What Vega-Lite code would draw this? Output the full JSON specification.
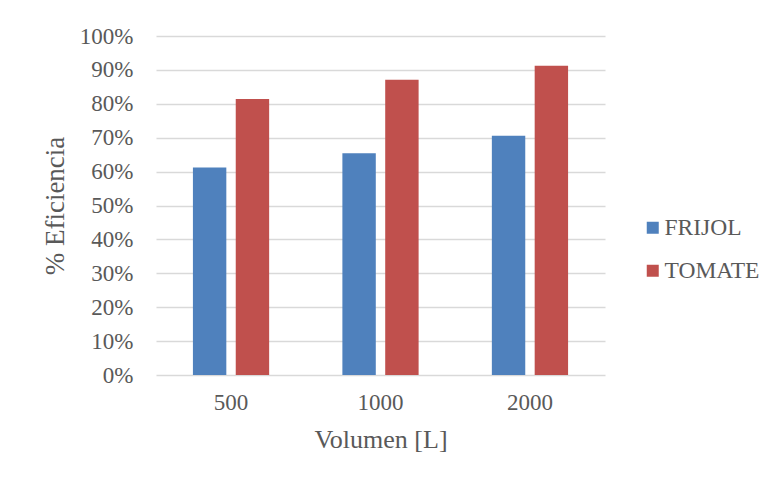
{
  "$schema": "https://vega.github.io/schema/vega-lite/v6.json",
  "width": 449,
  "height": 339,
  "autosize": {"type": "none"},
  "padding": {"left": 156, "top": 36, "right": 172, "bottom": 110},
  "background": "white",
  "data": {
    "values": [
      {"volumen": "500", "cultivo": "FRIJOL", "eficiencia": 0.612},
      {"volumen": "500", "cultivo": "TOMATE", "eficiencia": 0.814},
      {"volumen": "1000", "cultivo": "FRIJOL", "eficiencia": 0.654},
      {"volumen": "1000", "cultivo": "TOMATE", "eficiencia": 0.871},
      {"volumen": "2000", "cultivo": "FRIJOL", "eficiencia": 0.706},
      {"volumen": "2000", "cultivo": "TOMATE", "eficiencia": 0.912}
    ]
  },
  "mark": {"type": "bar"},
  "encoding": {
    "x": {
      "field": "volumen",
      "type": "ordinal",
      "sort": ["500", "1000", "2000"],
      "scale": {"paddingInner": 0.49, "paddingOuter": 0.247},
      "axis": {
        "title": "Volumen [L]",
        "titleFontSize": 26,
        "labelAngle": 0,
        "domain": false,
        "ticks": false,
        "labelPadding": 16,
        "titlePadding": 12
      }
    },
    "xOffset": {
      "field": "cultivo",
      "type": "nominal",
      "scale": {"paddingInner": 0.22, "paddingOuter": 0}
    },
    "y": {
      "field": "eficiencia",
      "type": "quantitative",
      "scale": {"domain": [0, 1]},
      "axis": {
        "title": "% Eficiencia",
        "titleFontSize": 27,
        "format": ".0%",
        "values": [0, 0.1, 0.2, 0.3, 0.4, 0.5, 0.6, 0.7, 0.8, 0.9, 1],
        "labelOverlap": false,
        "domain": false,
        "ticks": false,
        "labelPadding": 23,
        "titlePadding": 10,
        "grid": true
      }
    },
    "color": {
      "field": "cultivo",
      "type": "nominal",
      "scale": {"domain": ["FRIJOL", "TOMATE"], "range": ["#4f81bd", "#c0504d"]},
      "legend": {
        "title": null,
        "orient": "none",
        "legendX": 485,
        "legendY": 180,
        "symbolType": "square",
        "symbolSize": 144,
        "symbolStrokeWidth": 0,
        "rowPadding": 18,
        "labelOffset": 0
      }
    }
  },
  "config": {
    "font": "Liberation Serif",
    "view": {"stroke": null},
    "axis": {
      "labelFont": "Liberation Serif",
      "titleFont": "Liberation Serif",
      "labelFontSize": 23,
      "titleFontWeight": "normal",
      "labelColor": "#595959",
      "titleColor": "#595959",
      "gridColor": "#d9d9d9",
      "gridWidth": 1.5
    },
    "legend": {
      "labelFont": "Liberation Serif",
      "labelFontSize": 23.5,
      "labelColor": "#595959"
    }
  }
}
